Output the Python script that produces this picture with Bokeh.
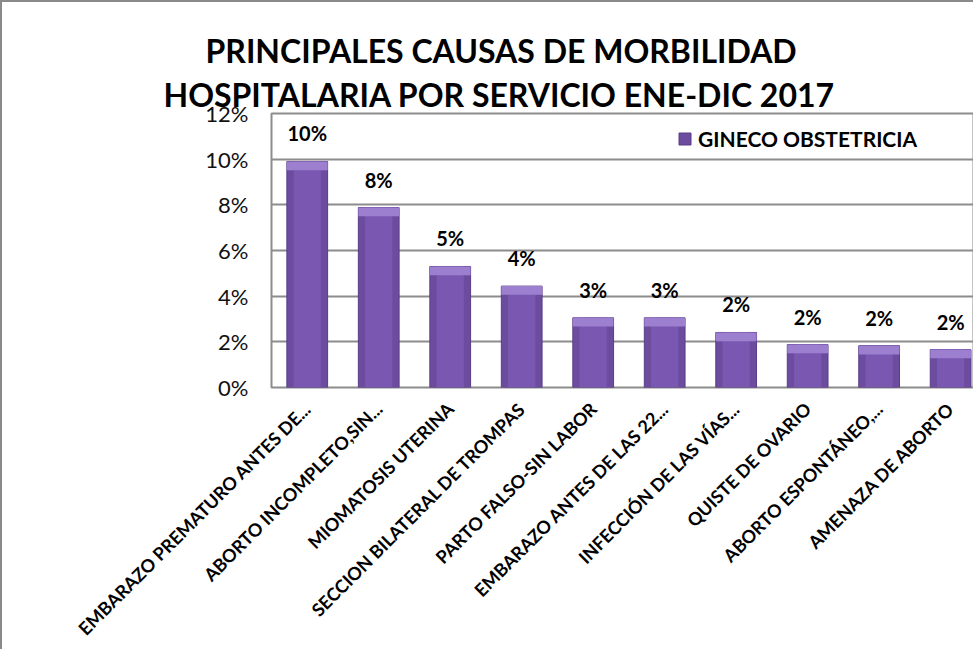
import math
from bokeh.plotting import figure
from bokeh.models import (ColumnDataSource, FixedTicker, PrintfTickFormatter, Range1d,
                          LabelSet, Title, Legend, LegendItem)
from bokeh.core.properties import value
from bokeh.embed import file_html
from bokeh.resources import INLINE

categories = [
    "EMBARAZO PREMATURO ANTES DE...",
    "ABORTO INCOMPLETO,SIN...",
    "MIOMATOSIS UTERINA",
    "SECCION BILATERAL DE TROMPAS",
    "PARTO FALSO-SIN LABOR",
    "EMBARAZO ANTES DE LAS 22...",
    "INFECCIÓN DE LAS VÍAS...",
    "QUISTE DE OVARIO",
    "ABORTO ESPONTÁNEO,...",
    "AMENAZA DE ABORTO",
]
values = [9.9, 7.88, 5.3, 4.44, 3.05, 3.05, 2.41, 1.88, 1.83, 1.66]
y_ticks = [0, 2, 4, 6, 8, 10, 12]
series_name = "GINECO OBSTETRICIA"
title_lines = ["PRINCIPALES CAUSAS DE MORBILIDAD", "HOSPITALARIA POR SERVICIO ENE-DIC 2017"]

FONT = "Lato"
BAR_FILL = "#6c4c9f"
BAR_LINE = "#5a3c88"
idx = list(range(len(categories)))
src = ColumnDataSource(dict(
    x=idx,
    top=values,
    bevel=[v - 0.38 for v in values],
    label=[f"{round(v):d}%" for v in values],
))

p = figure(
    frame_width=702, frame_height=274,
    min_border_left=269, min_border_top=111, min_border_bottom=200, min_border_right=0,
    x_range=Range1d(-0.5, 9.32), y_range=Range1d(0, 12),
    output_backend="svg", toolbar_location=None,
)
p.styles = {"border-left": "2px solid #8a8a8a", "border-top": "2px solid #8a8a8a"}
p.background_fill_color = "white"
p.border_fill_color = "white"
p.outline_line_color = "#8c8c8c"
p.outline_line_width = 2

p.xgrid.grid_line_color = None
p.ygrid.grid_line_color = "#8c8c8c"
p.ygrid.grid_line_width = 2

bars = p.vbar(x="x", top="top", bottom=0, width=0.57, source=src,
              fill_color=BAR_FILL, line_color=BAR_LINE, line_width=1)
p.vbar(x="x", top="top", bottom=0, width=0.38, source=src,
       fill_color="#7c5ab3", line_color=None, fill_alpha=0.9)
p.vbar(x="x", top="top", bottom="bevel", width=0.57, source=src,
       fill_color="#9c7fcf", line_color=None)

labels = LabelSet(x="x", y="top", text="label", source=src, y_offset=28,
                  text_align="center", text_baseline="middle",
                  text_font=value(FONT), text_font_style="bold", text_font_size="20px",
                  text_color="black")
p.add_layout(labels)

p.yaxis.ticker = FixedTicker(ticks=y_ticks)
p.yaxis.formatter = PrintfTickFormatter(format="%d%%")
p.yaxis.axis_line_color = None
p.yaxis.major_tick_line_color = None
p.yaxis.minor_tick_line_color = None
p.yaxis.major_tick_in = 0
p.yaxis.major_tick_out = 0
p.yaxis.minor_tick_in = 0
p.yaxis.minor_tick_out = 0
p.yaxis.major_label_standoff = 23
p.yaxis.major_label_text_font = FONT
p.yaxis.major_label_text_font_size = "22px"
p.yaxis.major_label_text_color = "#111111"

p.xaxis.ticker = FixedTicker(ticks=idx)
p.xaxis.major_label_overrides = {i: c for i, c in zip(idx, categories)}
p.xaxis.major_label_orientation = math.pi / 4
p.xaxis.axis_line_color = None
p.xaxis.major_tick_line_color = None
p.xaxis.minor_tick_line_color = None
p.xaxis.major_tick_in = 0
p.xaxis.major_tick_out = 0
p.xaxis.minor_tick_in = 0
p.xaxis.minor_tick_out = 0
p.xaxis.major_label_standoff = 18
p.xaxis.major_label_text_font = FONT
p.xaxis.major_label_text_font_style = "bold"
p.xaxis.major_label_text_font_size = "18px"
p.xaxis.major_label_text_color = "black"

# title: second line nearest the frame, first line above it
for line, off, so in zip(reversed(title_lines), (-108, -66), (0, 5)):
    p.add_layout(Title(text=line, align="left", offset=off, standoff=so,
                       text_font=FONT, text_font_style="bold", text_font_size="32px",
                       text_color="black"), "above")

# legend kept inside the plot area (free space at the upper right)
legend = Legend(items=[LegendItem(label=series_name, renderers=[bars])],
                location=(406, 236), orientation="horizontal")
legend.label_text_font = FONT
legend.label_text_font_style = "bold"
legend.label_text_font_size = "21px"
legend.label_text_color = "black"
legend.glyph_width = 15
legend.glyph_height = 15
legend.border_line_color = None
legend.background_fill_alpha = 0
legend.padding = 0
legend.margin = 0
legend.label_standoff = 6
p.add_layout(legend, "center")

with open("out.html", "w") as f:
    f.write(file_html(p, INLINE))
